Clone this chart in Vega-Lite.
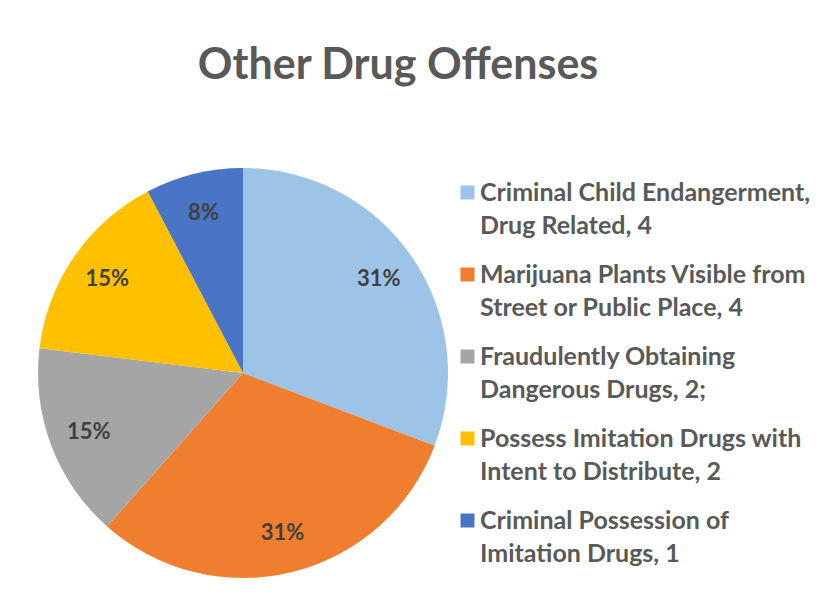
{
  "$schema": "https://vega.github.io/schema/vega-lite/v6.json",
  "autosize": "none",
  "padding": {"left": 38, "top": 168, "right": 370, "bottom": 25},
  "width": 410,
  "height": 410,
  "background": "white",
  "config": {"view": {"stroke": null}, "font": "Lato"},
  "title": {
    "text": "Other Drug Offenses",
    "anchor": "middle",
    "frame": "group",
    "dx": 155,
    "offset": 80,
    "font": "Lato",
    "fontSize": 43,
    "fontWeight": "bold",
    "color": "#595959"
  },
  "data": {
    "values": [
      {"offense": "Criminal Child Endangerment,|Drug Related, 4", "count": 4, "rank": 1, "pct": "31%"},
      {"offense": "Marijuana Plants Visible from|Street or Public Place, 4", "count": 4, "rank": 2, "pct": "31%"},
      {"offense": "Fraudulently Obtaining|Dangerous Drugs, 2;", "count": 2, "rank": 3, "pct": "15%"},
      {"offense": "\u2002Possess Imitation Drugs with|Intent to Distribute, 2", "count": 2, "rank": 4, "pct": "15%"},
      {"offense": "Criminal Possession of|Imitation Drugs, 1", "count": 1, "rank": 5, "pct": "8%"}
    ]
  },
  "encoding": {
    "theta": {"field": "count", "type": "quantitative", "stack": true},
    "order": {"field": "rank", "type": "quantitative"}
  },
  "layer": [
    {
      "mark": {"type": "arc", "strokeWidth": 0},
      "encoding": {
        "color": {
          "field": "offense",
          "type": "nominal",
          "sort": null,
          "scale": {
            "domain": [
              "Criminal Child Endangerment,|Drug Related, 4",
              "Marijuana Plants Visible from|Street or Public Place, 4",
              "Fraudulently Obtaining|Dangerous Drugs, 2;",
              "\u2002Possess Imitation Drugs with|Intent to Distribute, 2",
              "Criminal Possession of|Imitation Drugs, 1"
            ],
            "range": ["#9DC3E6", "#EF7E2F", "#A5A5A5", "#FFC000", "#4A75C6"]
          },
          "legend": {
            "orient": "none",
            "legendX": 417,
            "legendY": 12,
            "title": null,
            "padding": 0,
            "symbolType": "square",
            "symbolSize": 196,
            "symbolStrokeWidth": 0,
            "symbolOpacity": 1,
            "labelExpr": "split(datum.label, '|')",
            "labelFont": "Lato",
            "labelFontSize": 25,
            "labelFontWeight": "bold",
            "labelColor": "#595959",
            "labelLimit": 400,
            "labelOffset": 0,
            "rowPadding": 23,
            "encode": {
              "labels": {"update": {"lineHeight": {"value": 33}}}
            }
          }
        }
      }
    },
    {
      "mark": {"type": "text", "radius": 165, "font": "Lato", "fontSize": 22, "fontWeight": "bold", "color": "#404040"},
      "encoding": {
        "text": {"field": "pct", "type": "nominal"}
      }
    }
  ]
}
